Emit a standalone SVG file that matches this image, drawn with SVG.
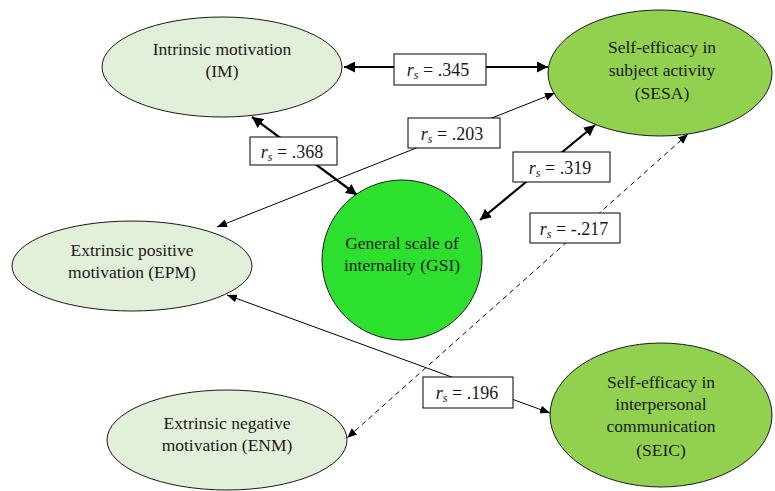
<svg xmlns="http://www.w3.org/2000/svg" width="775" height="491" viewBox="0 0 775 491">
<style>
.t{font-family:"Liberation Serif","Times New Roman",serif;font-size:17.5px;fill:#1a1a1a;text-anchor:middle}
.l{font-family:"Liberation Serif","Times New Roman",serif;font-size:18px;fill:#1a1a1a;text-anchor:middle}
.n{stroke:#1a1a1a;stroke-width:1}
.lt{fill:#e2efd9}
.md{fill:#92d050}
.gs{fill:#2ee02e}
.thick{stroke:#000;stroke-width:2.2;fill:none}
.thin{stroke:#000;stroke-width:1;fill:none}
.dash{stroke:#000;stroke-width:1;fill:none;stroke-dasharray:5,4}
.box{fill:#fff;stroke:#000;stroke-width:1}
</style>
<defs>
<marker id="ak" viewBox="0 0 10 10" refX="10" refY="5" markerWidth="5" markerHeight="5" orient="auto-start-reverse" markerUnits="strokeWidth"><path d="M0,0 L10,5 L0,10 z" fill="#000"/></marker>
<marker id="an" viewBox="0 0 10 10" refX="10" refY="5" markerWidth="10" markerHeight="10" orient="auto-start-reverse" markerUnits="userSpaceOnUse"><path d="M0,1 L10,5 L0,9 z" fill="#000"/></marker>
</defs>
<g id="connectors">
<line class="thick" x1="344" y1="67" x2="548" y2="67" marker-start="url(#ak)" marker-end="url(#ak)"/>
<line class="thick" x1="252" y1="117" x2="357" y2="195" marker-start="url(#ak)" marker-end="url(#ak)"/>
<line class="thick" x1="595" y1="125" x2="480" y2="220" marker-start="url(#ak)" marker-end="url(#ak)"/>
<line class="thin" x1="555" y1="93" x2="217" y2="227" marker-start="url(#an)" marker-end="url(#an)"/>
<line class="thin" x1="227" y1="295" x2="550" y2="413" marker-start="url(#an)" marker-end="url(#an)"/>
<line class="dash" x1="688" y1="134" x2="347" y2="438" marker-start="url(#an)" marker-end="url(#an)"/>
<g id="label-345"><rect class="box" x="394" y="54" width="92" height="31"/><text class="l" x="438" y="76"><tspan font-style="italic">r</tspan><tspan font-style="italic" font-size="12" dy="3">s</tspan><tspan dy="-3"> = .345</tspan></text></g>
<g id="label-203"><rect class="box" x="408" y="118" width="92" height="30"/><text class="l" x="452" y="140"><tspan font-style="italic">r</tspan><tspan font-style="italic" font-size="12" dy="3">s</tspan><tspan dy="-3"> = .203</tspan></text></g>
<g id="label-368"><rect class="box" x="250" y="137" width="87" height="28"/><text class="l" x="292" y="158"><tspan font-style="italic">r</tspan><tspan font-style="italic" font-size="12" dy="3">s</tspan><tspan dy="-3"> = .368</tspan></text></g>
<g id="label-319"><rect class="box" x="513" y="152" width="97" height="30"/><text class="l" x="560" y="174"><tspan font-style="italic">r</tspan><tspan font-style="italic" font-size="12" dy="3">s</tspan><tspan dy="-3"> = .319</tspan></text></g>
<g id="label-217"><rect class="box" x="530" y="213" width="90" height="30"/><text class="l" x="574" y="235"><tspan font-style="italic">r</tspan><tspan font-style="italic" font-size="12" dy="3">s</tspan><tspan dy="-3"> = -.217</tspan></text></g>
<g id="label-196"><rect class="box" x="423" y="377" width="90" height="31"/><text class="l" x="467" y="399"><tspan font-style="italic">r</tspan><tspan font-style="italic" font-size="12" dy="3">s</tspan><tspan dy="-3"> = .196</tspan></text></g>
</g>
<g id="IM"><ellipse class="n lt" cx="222" cy="67" rx="120" ry="50"/><text class="t" x="222" y="55">Intrinsic motivation</text><text class="t" x="222" y="77">(IM)</text></g>
<g id="SESA"><ellipse class="n md" cx="660" cy="73" rx="112" ry="63"/><text class="t" x="662" y="53">Self-efficacy in</text><text class="t" x="662" y="76">subject activity</text><text class="t" x="662" y="99">(SESA)</text></g>
<g id="GSI"><circle class="n gs" cx="402" cy="260" r="80"/><text class="t" x="402" y="249">General scale of</text><text class="t" x="402" y="271">internality (GSI)</text></g>
<g id="EPM"><ellipse class="n lt" cx="132" cy="266" rx="120" ry="45"/><text class="t" x="132" y="256">Extrinsic positive</text><text class="t" x="132" y="278">motivation (EPM)</text></g>
<g id="ENM"><ellipse class="n lt" cx="227" cy="440" rx="120" ry="50"/><text class="t" x="227" y="429">Extrinsic negative</text><text class="t" x="227" y="451">motivation (ENM)</text></g>
<g id="SEIC"><ellipse class="n md" cx="661" cy="415" rx="111" ry="72"/><text class="t" x="661" y="388">Self-efficacy in</text><text class="t" x="661" y="410">interpersonal</text><text class="t" x="661" y="432">communication</text><text class="t" x="661" y="456">(SEIC)</text></g>
</svg>
